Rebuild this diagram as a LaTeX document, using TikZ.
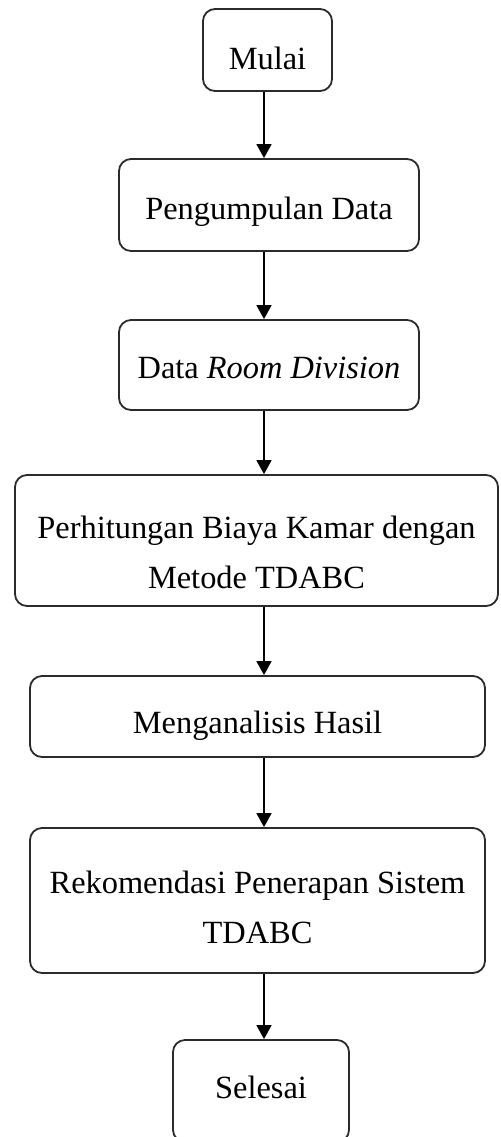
\documentclass[tikz,border=0pt]{standalone}
\usepackage{fontspec}
\setmainfont{Liberation Serif}
\usepackage{tikz}
\usetikzlibrary{arrows.meta,calc,positioning}
\definecolor{boxline}{HTML}{2B2B2B}
\tikzset{
  flowbox/.style={draw=boxline, line width=0.9pt, rounded corners=6pt, fill=white, align=center, inner sep=0pt, text depth=0pt, font=\fontsize{16.2}{25}\selectfont},
  flowarrow/.style={black, line width=0.8pt, -{Triangle[length=7pt,width=7.5pt]}}
}

\begin{document}
\begin{tikzpicture}[x=0.5pt,y=-0.5pt]
  \useasboundingbox (0,0) rectangle (500,1137);
  \clip (0,0) rectangle (500,1137);
  \node[flowbox, minimum width=64.5pt, minimum height=41pt, text height=19.4pt] (mulai) at (267.5,50) {Mulai};
  \node[flowbox, minimum width=150pt, minimum height=46pt, text height=14.4pt] (kumpul) at (269,205) {Pengumpulan Data};
  \node[flowbox, minimum width=150pt, minimum height=45pt, text height=13.4pt] (room) at (269,365) {Data \textit{Room Division}};
  \node[flowbox, minimum width=241.5pt, minimum height=65.5pt, text height=48.4pt] (hitung) at (256.5,540.5) {Perhitungan Biaya Kamar dengan\\Metode TDABC};
  \node[flowbox, minimum width=227.5pt, minimum height=40.5pt, text height=16.9pt] (analisis) at (257.5,716.5) {Menganalisis Hasil};
  \node[flowbox, minimum width=227.5pt, minimum height=72.5pt, text height=42.9pt] (rekom) at (257.5,900.5) {Rekomendasi Penerapan Sistem\\TDABC};
  \node[flowbox, minimum width=88pt, minimum height=51pt, text height=7.4pt] (selesai) at (261,1091) {Selesai};
  \coordinate (axis) at (264,0);
  \foreach \a/\b in {mulai/kumpul, kumpul/room, room/hitung, hitung/analisis, analisis/rekom, rekom/selesai}
    \draw[flowarrow] (\a.south -| axis) -- (\b.north -| axis);
\end{tikzpicture}
\end{document}
